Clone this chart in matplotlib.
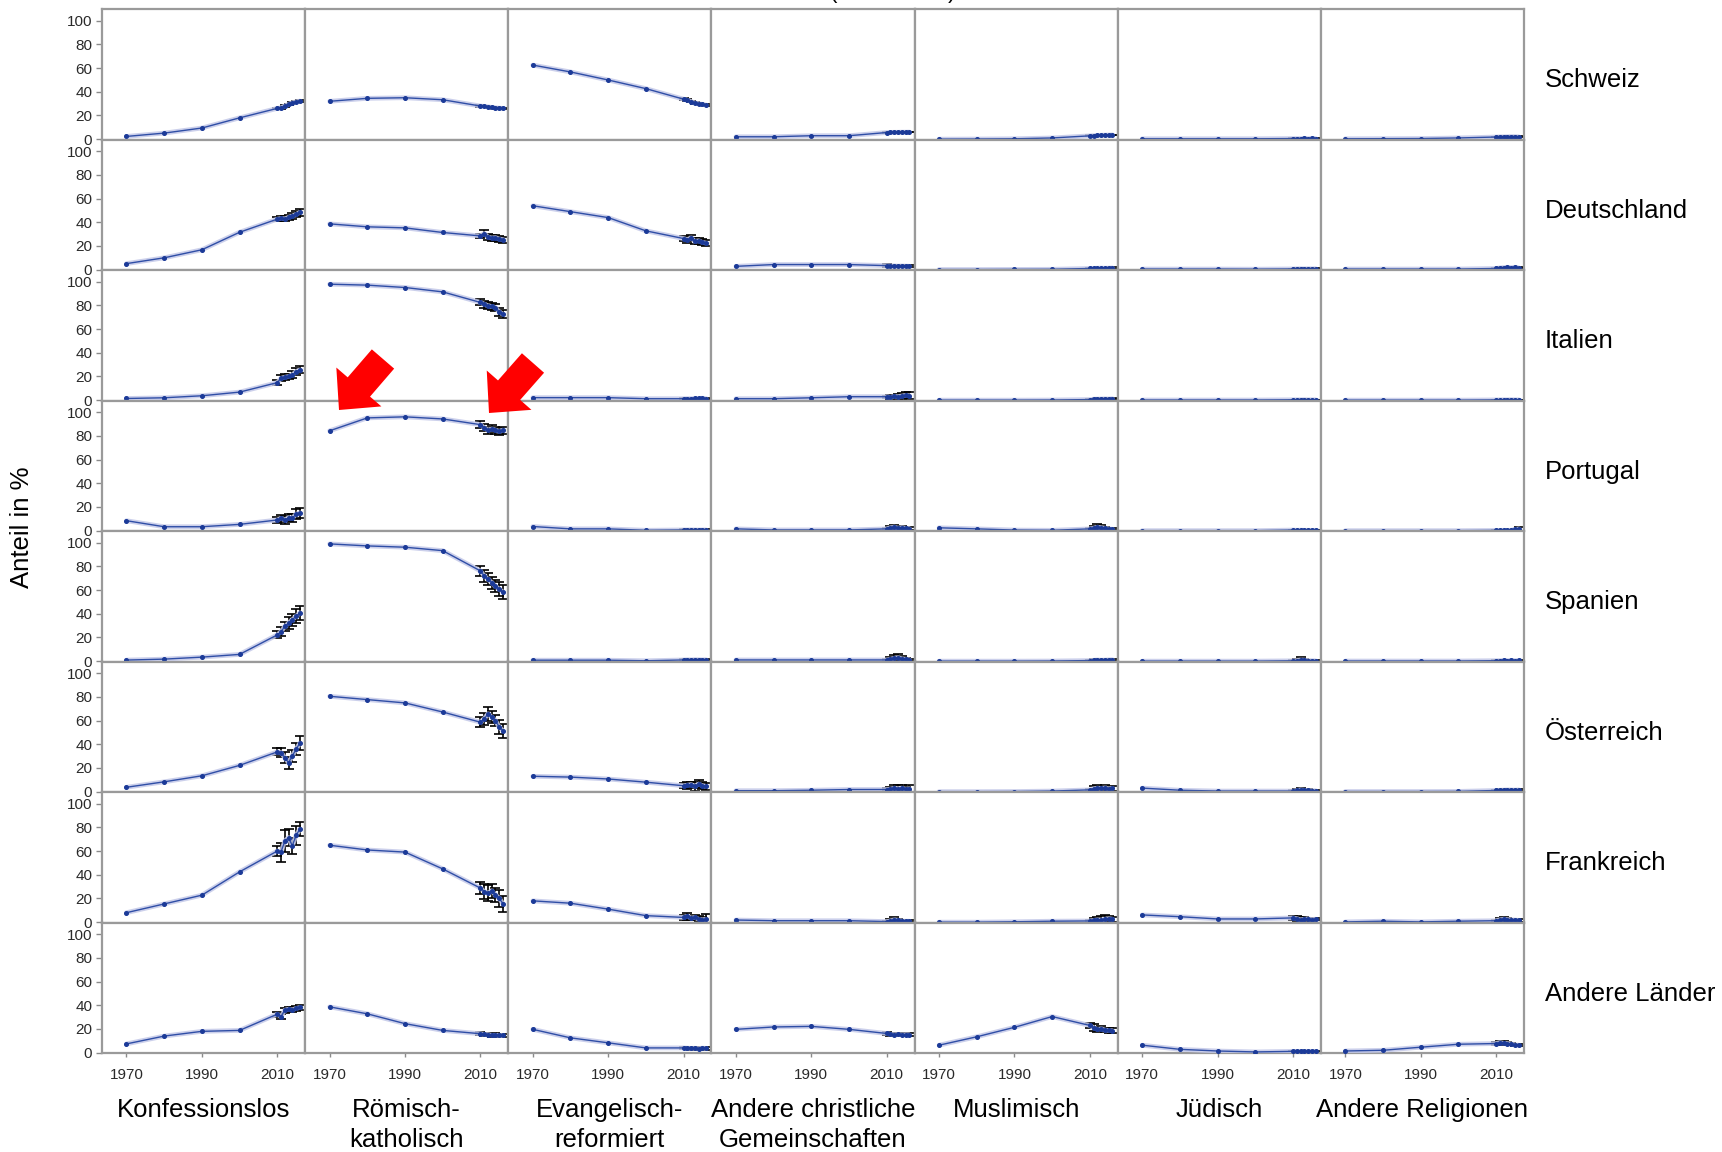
import matplotlib
matplotlib.use("Agg")
import matplotlib.pyplot as plt
from matplotlib.patches import FancyArrow
from matplotlib.transforms import IdentityTransform

# ---------------- data ----------------
years = [1970, 1980, 1990, 2000, 2010, 2011, 2012, 2013, 2014, 2015, 2016]
survey_years = [2010, 2011, 2012, 2013, 2014, 2015, 2016]

countries = ["Schweiz", "Deutschland", "Italien", "Portugal", "Spanien",
             "Österreich", "Frankreich", "Andere Länder"]
religion_labels = ["Konfessionslos", "Römisch-\nkatholisch", "Evangelisch-\nreformiert",
                   "Andere christliche\nGemeinschaften", "Muslimisch", "Jüdisch",
                   "Andere Religionen"]
xtick_years = [1970, 1990, 2010]
ytick_values = [0, 20, 40, 60, 80, 100]

konfessionslos = {
    "Schweiz":       [2.3, 5.1, 9.4, 18.0, 26.0, 26.5, 28.0, 29.4, 30.8, 31.6, 32.2],
    "Deutschland":   [5.1, 10.0, 16.8, 31.6, 42.7, 43.3, 43.0, 44.2, 45.3, 46.7, 48.4],
    "Italien":       [1.4, 2.0, 3.7, 6.8, 14.8, 18.5, 19.4, 20.0, 21.4, 24.2, 25.6],
    "Portugal":      [8.4, 3.3, 3.3, 5.3, 9.0, 10.5, 9.0, 11.0, 10.5, 14.0, 15.0],
    "Spanien":       [0.9, 1.7, 3.4, 5.7, 22.2, 25.0, 29.3, 32.2, 35.0, 37.9, 40.8],
    "Österreich":    [3.7, 8.3, 13.4, 22.2, 33.6, 33.0, 28.8, 24.5, 30.2, 35.9, 41.0],
    "Frankreich":    [8.0, 15.4, 22.8, 42.5, 60.1, 59.2, 68.6, 71.5, 64.4, 73.5, 78.6],
    "Andere Länder": [7.4, 14.0, 18.0, 18.8, 32.5, 30.5, 35.9, 36.8, 36.2, 37.4, 38.2],
}
konfessionslos_err = {
    "Schweiz":       [0.6, 0.6, 0.6, 0.6, 0.6, 0.6, 0.6],
    "Deutschland":   [2.0, 2.0, 2.0, 2.0, 2.5, 2.5, 3.0],
    "Italien":       [2.0, 2.5, 2.5, 2.5, 3.0, 3.0, 3.0],
    "Portugal":      [2.5, 3.0, 3.0, 3.0, 3.5, 4.0, 4.0],
    "Spanien":       [3.0, 4.0, 4.0, 5.0, 5.0, 6.0, 6.0],
    "Österreich":    [3.0, 4.0, 5.0, 5.0, 5.0, 5.0, 6.0],
    "Frankreich":    [4.0, 8.0, 9.0, 7.0, 7.0, 8.0, 6.0],
    "Andere Länder": [2.0, 2.0, 2.0, 2.0, 2.0, 2.0, 2.0],
}

roemisch_katholisch = {
    "Schweiz":       [32.0, 34.5, 35.0, 33.3, 28.0, 27.7, 27.4, 26.8, 26.5, 26.2, 26.0],
    "Deutschland":   [38.7, 36.2, 35.3, 31.4, 28.5, 30.5, 27.6, 26.8, 27.1, 25.9, 25.4],
    "Italien":       [98.0, 97.2, 95.2, 91.5, 82.6, 81.2, 79.8, 79.2, 78.3, 74.6, 72.6],
    "Portugal":      [84.4, 95.3, 96.2, 94.4, 89.6, 87.0, 85.0, 86.0, 85.0, 84.0, 85.0],
    "Spanien":       [99.1, 97.4, 96.3, 93.4, 76.3, 72.0, 69.2, 66.4, 63.5, 60.7, 58.4],
    "Österreich":    [80.6, 77.8, 75.0, 67.3, 58.7, 61.5, 65.8, 63.0, 60.1, 54.4, 51.5],
    "Frankreich":    [65.0, 61.0, 59.2, 45.0, 28.8, 25.9, 24.5, 26.5, 23.1, 20.2, 15.4],
    "Andere Länder": [38.7, 32.8, 24.5, 18.8, 16.0, 15.5, 15.3, 14.8, 14.8, 14.5, 14.5],
}
roemisch_katholisch_err = {
    "Schweiz":       [0.6, 0.6, 0.6, 0.6, 0.6, 0.6, 0.6],
    "Deutschland":   [2.0, 3.0, 2.5, 2.5, 2.5, 2.5, 2.5],
    "Italien":       [2.5, 3.0, 3.0, 3.0, 3.0, 3.5, 3.5],
    "Portugal":      [3.0, 3.0, 3.0, 3.0, 3.0, 3.0, 3.0],
    "Spanien":       [4.0, 5.0, 5.0, 5.0, 5.0, 6.0, 6.0],
    "Österreich":    [4.0, 5.0, 6.0, 5.0, 5.0, 6.0, 6.0],
    "Frankreich":    [5.0, 6.0, 7.0, 6.0, 6.0, 7.0, 7.0],
    "Andere Länder": [1.5, 1.5, 1.5, 1.5, 1.5, 1.5, 1.5],
}

evangelisch_reformiert = {
    "Schweiz":       [62.6, 56.8, 50.0, 42.7, 33.8, 33.0, 31.8, 30.6, 30.0, 29.4, 28.8],
    "Deutschland":   [54.0, 49.0, 44.0, 32.8, 26.3, 25.4, 26.9, 23.9, 24.5, 23.0, 22.5],
    "Italien":       [2.1, 2.1, 2.1, 1.2, 1.2, 1.3, 1.3, 1.4, 1.5, 1.6, 1.3],
    "Portugal":      [3.5, 1.5, 1.5, 0.3, 0.6, 0.6, 0.7, 0.6, 0.5, 0.6, 0.6],
    "Spanien":       [0.8, 0.8, 0.8, 0.3, 1.0, 1.2, 1.1, 1.3, 1.2, 1.1, 1.2],
    "Österreich":    [13.0, 12.3, 10.7, 8.0, 5.0, 5.5, 6.0, 4.5, 6.5, 5.0, 4.5],
    "Frankreich":    [18.0, 16.0, 11.0, 5.5, 4.0, 5.0, 3.5, 4.0, 2.5, 2.0, 2.5],
    "Andere Länder": [19.7, 12.5, 8.3, 4.0, 4.0, 3.8, 3.6, 3.7, 3.5, 3.8, 3.6],
}
evangelisch_reformiert_err = {
    "Schweiz":       [0.6, 0.6, 0.6, 0.6, 0.6, 0.6, 0.6],
    "Deutschland":   [2.0, 2.5, 2.5, 2.5, 2.5, 2.5, 2.5],
    "Italien":       [0.5, 0.5, 0.5, 0.5, 0.6, 0.6, 0.6],
    "Portugal":      [0.4, 0.4, 0.5, 0.4, 0.4, 0.5, 0.5],
    "Spanien":       [0.5, 0.6, 0.6, 0.7, 0.6, 0.6, 0.6],
    "Österreich":    [2.0, 3.0, 2.5, 4.0, 3.0, 3.0, 3.0],
    "Frankreich":    [2.0, 3.0, 2.0, 2.0, 2.5, 2.0, 4.0],
    "Andere Länder": [1.0, 1.0, 1.0, 1.0, 1.0, 1.0, 1.0],
}

andere_christliche = {
    "Schweiz":       [2.0, 2.0, 2.9, 2.9, 5.6, 5.7, 5.8, 5.8, 5.9, 5.9, 6.0],
    "Deutschland":   [2.8, 4.3, 4.3, 4.3, 3.4, 3.3, 3.2, 3.0, 3.1, 3.0, 2.9],
    "Italien":       [1.2, 1.2, 2.0, 2.9, 2.9, 2.5, 3.2, 3.0, 3.5, 4.0, 3.8],
    "Portugal":      [1.5, 0.6, 0.6, 0.6, 1.5, 2.5, 3.0, 2.2, 2.6, 2.0, 1.8],
    "Spanien":       [1.0, 1.0, 1.0, 1.0, 1.0, 1.5, 2.5, 3.0, 2.0, 1.5, 1.2],
    "Österreich":    [0.8, 0.8, 1.2, 1.8, 1.8, 2.0, 3.0, 2.5, 3.0, 2.0, 2.5],
    "Frankreich":    [1.8, 1.2, 1.2, 1.2, 0.5, 1.0, 2.0, 1.5, 1.0, 0.8, 0.8],
    "Andere Länder": [19.7, 21.7, 22.2, 19.7, 16.2, 15.5, 15.3, 15.4, 15.2, 15.3, 15.2],
}
andere_christliche_err = {
    "Schweiz":       [0.3, 0.3, 0.3, 0.3, 0.3, 0.3, 0.3],
    "Deutschland":   [1.0, 1.0, 1.0, 1.0, 1.0, 1.0, 1.0],
    "Italien":       [1.0, 1.5, 1.5, 2.0, 2.5, 2.5, 3.0],
    "Portugal":      [1.0, 1.5, 2.0, 1.5, 1.5, 1.0, 1.0],
    "Spanien":       [1.0, 2.0, 2.5, 3.0, 2.0, 1.5, 1.0],
    "Österreich":    [1.5, 2.0, 2.5, 3.0, 2.5, 2.0, 3.0],
    "Frankreich":    [0.5, 2.0, 2.5, 1.5, 1.0, 1.0, 1.0],
    "Andere Länder": [1.5, 1.5, 1.5, 1.5, 1.5, 1.5, 1.5],
}

muslimisch = {
    "Schweiz":       [0.0, 0.1, 0.3, 1.0, 2.8, 3.0, 3.2, 3.3, 3.4, 3.5, 3.6],
    "Deutschland":   [0.1, 0.1, 0.2, 0.3, 1.0, 1.1, 1.2, 1.3, 1.2, 1.3, 1.4],
    "Italien":       [0.0, 0.0, 0.0, 0.1, 0.5, 0.8, 0.9, 1.0, 1.1, 1.0, 1.2],
    "Portugal":      [2.4, 1.5, 0.5, 0.3, 1.5, 2.0, 3.0, 2.5, 2.0, 1.5, 1.2],
    "Spanien":       [0.0, 0.0, 0.0, 0.1, 0.5, 0.7, 1.0, 0.8, 0.9, 1.1, 1.2],
    "Österreich":    [0.0, 0.0, 0.1, 0.5, 1.5, 2.5, 3.0, 2.8, 3.2, 2.5, 2.8],
    "Frankreich":    [0.0, 0.0, 0.3, 0.8, 1.0, 1.5, 2.0, 1.8, 2.5, 3.0, 2.5],
    "Andere Länder": [6.3, 13.4, 21.4, 30.5, 23.0, 21.1, 19.7, 20.2, 19.1, 18.8, 18.5],
}
muslimisch_err = {
    "Schweiz":       [0.3, 0.3, 0.3, 0.3, 0.3, 0.3, 0.3],
    "Deutschland":   [0.5, 0.5, 0.5, 0.5, 0.5, 0.5, 0.5],
    "Italien":       [0.5, 0.5, 0.5, 0.5, 0.5, 0.5, 0.5],
    "Portugal":      [1.0, 2.0, 2.5, 2.0, 1.5, 1.0, 1.0],
    "Spanien":       [0.5, 0.7, 0.8, 0.8, 1.0, 1.0, 1.0],
    "Österreich":    [1.0, 2.0, 2.5, 2.0, 2.5, 1.5, 2.0],
    "Frankreich":    [1.0, 2.0, 2.5, 3.0, 3.5, 2.0, 2.0],
    "Andere Länder": [2.0, 3.0, 2.0, 2.0, 2.0, 2.0, 2.0],
}

juedisch = {
    "Schweiz":       [0.3, 0.3, 0.3, 0.3, 0.5, 0.5, 0.5, 0.6, 0.5, 0.6, 0.5],
    "Deutschland":   [0.5, 0.5, 0.5, 0.4, 0.6, 0.7, 0.8, 0.7, 0.8, 0.7, 0.8],
    "Italien":       [0.1, 0.1, 0.1, 0.1, 0.3, 0.3, 0.3, 0.4, 0.3, 0.3, 0.3],
    "Portugal":      [0.0, 0.0, 0.0, 0.0, 0.5, 0.3, 0.4, 0.3, 0.3, 0.2, 0.3],
    "Spanien":       [0.0, 0.0, 0.0, 0.0, 0.3, 0.5, 1.0, 0.8, 0.5, 0.4, 0.3],
    "Österreich":    [3.0, 1.2, 0.5, 0.5, 0.5, 1.0, 1.5, 1.2, 1.0, 0.8, 0.8],
    "Frankreich":    [6.1, 4.6, 2.7, 2.7, 3.6, 3.0, 2.0, 2.5, 2.8, 2.2, 2.5],
    "Andere Länder": [6.3, 2.8, 1.4, 0.6, 1.1, 1.1, 1.0, 1.0, 1.0, 1.0, 1.0],
}
juedisch_err = {
    "Schweiz":       [0.2, 0.2, 0.2, 0.2, 0.2, 0.2, 0.2],
    "Deutschland":   [0.3, 0.3, 0.3, 0.3, 0.3, 0.3, 0.3],
    "Italien":       [0.2, 0.2, 0.2, 0.2, 0.2, 0.2, 0.2],
    "Portugal":      [0.3, 0.3, 0.3, 0.3, 0.3, 0.3, 0.3],
    "Spanien":       [0.5, 1.0, 2.5, 1.0, 0.5, 0.5, 0.5],
    "Österreich":    [0.5, 1.0, 1.5, 1.0, 1.0, 0.5, 0.5],
    "Frankreich":    [1.5, 2.0, 2.0, 1.5, 1.0, 1.0, 1.0],
    "Andere Länder": [0.5, 0.5, 0.5, 0.5, 0.5, 0.5, 0.5],
}

andere_religionen = {
    "Schweiz":       [0.3, 0.4, 0.5, 1.0, 1.8, 2.0, 2.0, 2.1, 2.2, 2.2, 2.0],
    "Deutschland":   [0.5, 0.5, 0.5, 0.5, 1.0, 1.5, 1.8, 2.0, 1.8, 2.0, 1.5],
    "Italien":       [0.0, 0.0, 0.0, 0.0, 0.2, 0.3, 0.3, 0.3, 0.4, 0.3, 0.3],
    "Portugal":      [0.0, 0.0, 0.0, 0.0, 0.2, 0.2, 0.3, 0.2, 0.3, 1.0, 1.5],
    "Spanien":       [0.1, 0.1, 0.1, 0.1, 0.4, 0.5, 0.6, 0.5, 0.6, 0.5, 0.6],
    "Österreich":    [0.1, 0.1, 0.1, 0.2, 1.0, 1.2, 1.3, 1.5, 1.4, 1.3, 1.5],
    "Frankreich":    [0.2, 0.8, 0.2, 0.8, 1.2, 2.0, 2.5, 2.2, 2.0, 1.8, 1.5],
    "Andere Länder": [1.4, 2.0, 4.6, 7.1, 7.7, 8.5, 8.0, 7.7, 7.4, 6.6, 6.3],
}
andere_religionen_err = {
    "Schweiz":       [0.3, 0.3, 0.3, 0.3, 0.3, 0.3, 0.3],
    "Deutschland":   [0.4, 0.4, 0.4, 0.4, 0.4, 0.4, 0.4],
    "Italien":       [0.2, 0.2, 0.2, 0.2, 0.2, 0.2, 0.2],
    "Portugal":      [0.2, 0.2, 0.2, 0.2, 0.2, 0.8, 1.5],
    "Spanien":       [0.5, 0.5, 0.5, 0.5, 0.5, 0.5, 0.5],
    "Österreich":    [0.7, 0.7, 0.7, 0.7, 0.7, 0.7, 0.7],
    "Frankreich":    [1.0, 1.5, 1.5, 1.5, 1.0, 1.0, 1.0],
    "Andere Länder": [1.0, 1.5, 1.5, 1.0, 1.0, 1.0, 1.0],
}

series = [konfessionslos, roemisch_katholisch, evangelisch_reformiert,
          andere_christliche, muslimisch, juedisch, andere_religionen]
series_err = [konfessionslos_err, roemisch_katholisch_err, evangelisch_reformiert_err,
              andere_christliche_err, muslimisch_err, juedisch_err, andere_religionen_err]

# ---------------- figure ----------------
plt.rcParams["font.family"] = ["Liberation Sans", "DejaVu Sans"]
W, H, DPI = 1722, 1152, 100
fig = plt.figure(figsize=(W / DPI, H / DPI), dpi=DPI, facecolor="white")
axes = fig.subplots(len(countries), len(series), sharex=True, sharey=True,
                    gridspec_kw=dict(wspace=0, hspace=0))
fig.subplots_adjust(left=102 / W, right=1524 / W, top=1 - 9 / H, bottom=1 - 1053 / H)

frame_color = "#9a9a9a"
n_rows, n_cols = len(countries), len(series)
for i, country in enumerate(countries):
    for j, (data, err) in enumerate(zip(series, series_err)):
        ax = axes[i, j]
        vals = data[country]
        ax.errorbar(survey_years, vals[4:], yerr=err[country], fmt="none",
                    ecolor="black", elinewidth=1.2, capsize=3.6, capthick=1.2, zorder=2)
        ax.plot(years, vals, color="#c3c8e8", lw=3.4, alpha=0.85, zorder=3,
                solid_capstyle="round", solid_joinstyle="round")
        ax.plot(years, vals, color="#2f4ea6", lw=1.0, marker="o", ms=2.6,
                mfc="#1b3a98", mec="#1b3a98", zorder=4)
        ax.set_xlim(1963.5, 2017.4)
        ax.set_ylim(-0.3, 110)
        for sp in ax.spines.values():
            sp.set_color(frame_color)
            sp.set_linewidth(1.6)
        ax.set_yticks(ytick_values)
        ax.set_xticks(xtick_years)
        ax.tick_params(axis="y", left=(j == 0), labelleft=(j == 0), length=4,
                       width=1.0, color="#8a8a8a", pad=3, labelsize=11,
                       labelcolor="#2a2a2a")
        ax.tick_params(axis="x", bottom=(i == n_rows - 1), labelbottom=(i == n_rows - 1),
                       length=3, width=1.0, color="#8a8a8a", pad=8, labelsize=11,
                       labelcolor="#2a2a2a")

# row labels (countries)
row_h = (1053 - 9) / n_rows
for i, country in enumerate(countries):
    yc = 9 + row_h * (i + 0.5) + 6
    fig.text(1545 / W, 1 - yc / H, country, ha="left", va="center", fontsize=18.5,
             color="black")

# column labels (religions)
col_w = (1524 - 102) / n_cols
for j, lab in enumerate(religion_labels):
    xc = 102 + col_w * (j + 0.5)
    fig.text(xc / W, 1 - 1098 / H, lab, ha="center", va="top", fontsize=18.5,
             linespacing=1.32, color="black")

# y axis title
fig.text(22 / W, 1 - 527 / H, "Anteil in %", rotation=90, ha="center", va="center",
         fontsize=18.5, color="black")

# title, cut off at the top edge as in the original
fig.text(893 / W, 1 + 2 / H, "(1970–2016)", ha="center", va="baseline", fontsize=16,
         color="black")

# red highlight arrows (pixel coordinates, origin bottom-left)
for tail_x, tail_y, dx, dy in [(383, H - 359, -44, -51), (533, H - 363, -44, -50)]:
    arr = FancyArrow(tail_x, tail_y, dx, dy, width=29.5, head_width=59.5,
                     head_length=30.4, length_includes_head=True, color="#ff0000",
                     ec="none", transform=IdentityTransform(), zorder=20)
    fig.add_artist(arr)

fig.savefig("out.png", dpi=DPI, facecolor="white")
